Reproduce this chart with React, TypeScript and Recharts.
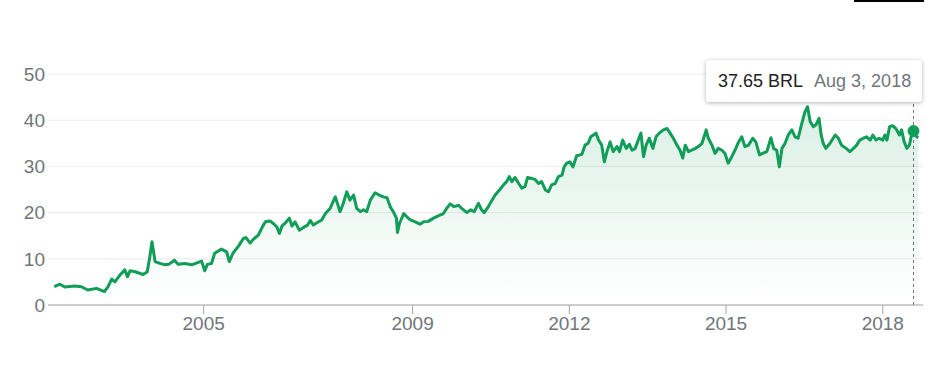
import {
  Area,
  AreaChart,
  CartesianGrid,
  ReferenceDot,
  ReferenceLine,
  XAxis,
  YAxis,
} from "recharts";

// time as fractional years, price in BRL
const years = [
  2002.14, 2002.25, 2002.34, 2002.53, 2002.66, 2002.78, 2002.95, 2003.1, 2003.17, 2003.24,
  2003.3, 2003.4, 2003.49, 2003.54, 2003.59, 2003.69, 2003.84, 2003.92, 2003.97, 2004.01,
  2004.07, 2004.16, 2004.26, 2004.33, 2004.44, 2004.51, 2004.64, 2004.77, 2004.96, 2005.02,
  2005.07, 2005.15, 2005.21, 2005.34, 2005.44, 2005.49, 2005.56, 2005.67, 2005.76, 2005.81,
  2005.89, 2005.95, 2006.05, 2006.11, 2006.18, 2006.27, 2006.34, 2006.4, 2006.45, 2006.5,
  2006.56, 2006.64, 2006.69, 2006.75, 2006.83, 2006.91, 2006.99, 2007.04, 2007.1, 2007.2,
  2007.26, 2007.33, 2007.42, 2007.52, 2007.56, 2007.61, 2007.66, 2007.74, 2007.8, 2007.87,
  2007.93, 2008.0, 2008.06, 2008.12, 2008.19, 2008.28, 2008.36, 2008.44, 2008.51, 2008.57,
  2008.63, 2008.69, 2008.71, 2008.75, 2008.83, 2008.89, 2008.95, 2009.05, 2009.14, 2009.21,
  2009.3, 2009.4, 2009.49, 2009.59, 2009.65, 2009.72, 2009.79, 2009.88, 2009.94, 2010.04,
  2010.11, 2010.18, 2010.26, 2010.32, 2010.37, 2010.45, 2010.52, 2010.58, 2010.67, 2010.74,
  2010.8, 2010.85, 2010.9, 2010.96, 2011.03, 2011.09, 2011.15, 2011.2, 2011.28, 2011.34,
  2011.41, 2011.47, 2011.54, 2011.6, 2011.66, 2011.73, 2011.79, 2011.86, 2011.9, 2011.95,
  2012.01, 2012.07, 2012.14, 2012.24, 2012.3, 2012.36, 2012.41, 2012.46, 2012.51, 2012.56,
  2012.62, 2012.67, 2012.72, 2012.78, 2012.84, 2012.91, 2012.96, 2013.02, 2013.09, 2013.15,
  2013.2, 2013.26, 2013.32, 2013.37, 2013.42, 2013.47, 2013.53, 2013.6, 2013.66, 2013.72,
  2013.8, 2013.87, 2013.93, 2013.99, 2014.06, 2014.12, 2014.17, 2014.22, 2014.28, 2014.34,
  2014.41, 2014.47, 2014.54, 2014.62, 2014.66, 2014.73, 2014.79, 2014.85, 2014.92, 2014.98,
  2015.04, 2015.11, 2015.17, 2015.24, 2015.3, 2015.36, 2015.43, 2015.51, 2015.57, 2015.64,
  2015.7, 2015.78, 2015.86, 2015.91, 2015.97, 2016.02, 2016.07, 2016.13, 2016.19, 2016.26,
  2016.32, 2016.38, 2016.45, 2016.51, 2016.56, 2016.61, 2016.67, 2016.72, 2016.78, 2016.82,
  2016.86, 2016.91, 2016.99, 2017.09, 2017.15, 2017.21, 2017.3, 2017.37, 2017.44, 2017.5,
  2017.56, 2017.63, 2017.69, 2017.76, 2017.81, 2017.87, 2017.93, 2018.0, 2018.04, 2018.08,
  2018.13, 2018.19, 2018.25, 2018.32, 2018.36, 2018.41, 2018.46, 2018.51, 2018.56, 2018.588,
  2018.65, 2018.68,
];

const prices = [
  3.96, 4.5, 3.9, 4.1, 3.95, 3.25, 3.6, 2.9, 4.0, 5.6,
  5.0, 6.5, 7.6, 6.1, 7.4, 7.2, 6.6, 7.2, 10.5, 13.7,
  9.4, 9.0, 8.7, 8.8, 9.7, 8.8, 9.0, 8.7, 9.5, 7.4,
  8.8, 9.0, 11.2, 12.1, 11.5, 9.4, 11.2, 12.8, 14.4, 14.6,
  13.4, 14.2, 15.2, 16.6, 18.0, 18.2, 17.6, 16.9, 15.5, 17.1,
  17.7, 18.8, 17.1, 18.0, 16.2, 16.8, 17.3, 18.3, 17.3, 18.0,
  18.4, 19.8, 20.9, 23.4, 22.0, 20.2, 21.6, 24.5, 22.7, 23.8,
  20.9, 20.2, 20.6, 20.2, 22.7, 24.3, 23.8, 23.4, 23.2, 21.3,
  20.2, 18.8, 15.7, 17.7, 19.8, 19.1, 18.5, 18.0, 17.5, 18.0,
  18.1, 18.8, 19.3, 19.8, 20.9, 21.9, 21.3, 21.6, 20.9, 20.0,
  20.6, 20.2, 22.0, 20.6, 20.0, 21.3, 22.7, 23.8, 25.0, 26.0,
  26.7, 27.8, 26.7, 27.6, 26.3, 25.3, 25.6, 27.6, 27.4, 27.2,
  26.3, 26.7, 24.9, 24.5, 26.0, 26.3, 27.8, 28.1, 29.9, 30.7,
  31.0, 29.9, 32.3, 32.6, 34.6, 35.0, 36.4, 36.8, 37.2, 35.7,
  34.6, 31.0, 33.2, 35.3, 33.2, 34.3, 33.2, 35.7, 33.9, 34.8,
  33.5, 33.9, 35.7, 37.2, 32.1, 34.6, 36.1, 33.9, 36.4, 37.2,
  37.9, 38.2, 37.2, 36.1, 34.6, 33.5, 31.8, 34.6, 33.2, 33.5,
  33.9, 34.3, 35.0, 37.9, 36.1, 34.6, 32.8, 33.9, 33.5, 32.8,
  30.7, 32.1, 33.5, 35.3, 36.4, 34.3, 34.6, 36.1, 35.3, 32.5,
  32.8, 33.2, 36.2, 33.9, 33.5, 29.9, 33.9, 35.0, 36.8, 37.9,
  36.4, 36.1, 39.3, 41.8, 42.9, 39.7, 38.6, 39.0, 40.4, 36.8,
  35.0, 33.9, 35.0, 36.8, 36.1, 34.6, 33.9, 33.2, 33.9, 34.6,
  35.7, 36.1, 36.4, 35.7, 36.8, 35.7, 36.1, 35.7, 36.8, 35.7,
  38.6, 38.8, 38.2, 36.8, 37.9, 35.3, 33.9, 34.6, 37.4, 37.65,
  36.4, 36.2,
];

const yearTicks = [2005, 2009, 2012, 2015, 2018];
const priceTicks = [0, 10, 20, 30, 40, 50];

const hoverYear = 2018.588;
const hoverPrice = 37.65;
const hoverPriceLabel = "37.65 BRL";
const hoverDateLabel = "Aug 3, 2018";

const data = years.map((t, i) => ({ t, price: prices[i] }));

const GREEN = "#0f9d58";
const GREY = "#70757a";
const FONT = "Arial, 'Liberation Sans', sans-serif";

export default function App() {
  return (
    <div
      style={{
        position: "absolute",
        left: 0,
        top: 0,
        width: 948,
        height: 366,
        background: "#fff",
        fontFamily: FONT,
      }}
    >
      <div
        style={{
          position: "absolute",
          left: 854,
          top: 0,
          width: 70,
          height: 2,
          background: "#000",
        }}
      />
      <AreaChart
        width={948}
        height={366}
        data={data}
        margin={{ top: 74, right: 25, left: 0, bottom: 31 }}
      >
        <defs>
          <linearGradient id="priceFill" x1="0" y1="0" x2="0" y2="1">
            <stop offset="0%" stopColor={GREEN} stopOpacity={0.26} />
            <stop offset="90%" stopColor={GREEN} stopOpacity={0.02} />
            <stop offset="100%" stopColor={GREEN} stopOpacity={0} />
          </linearGradient>
        </defs>
        <CartesianGrid vertical={false} stroke="#ececec" />
        <XAxis
          dataKey="t"
          type="number"
          domain={[2002.02, 2018.77]}
          ticks={yearTicks}
          allowDataOverflow
          height={30}
          stroke="#a6a6a6"
          tickSize={9}
          tickMargin={3}
          tick={{ fill: GREY, fontSize: 19, fontFamily: FONT }}
        />
        <YAxis
          type="number"
          domain={[0, 50]}
          ticks={priceTicks}
          width={48}
          axisLine={false}
          tickLine={false}
          tickSize={0}
          tickMargin={3}
          tick={{ fill: GREY, fontSize: 19, fontFamily: FONT }}
        />
        <ReferenceLine
          x={hoverYear}
          stroke={GREY}
          strokeDasharray="3 3"
          strokeWidth={1}
        />
        <Area
          type="linear"
          dataKey="price"
          stroke={GREEN}
          strokeWidth={3}
          strokeLinejoin="round"
          fill="url(#priceFill)"
          dot={false}
          activeDot={false}
          isAnimationActive={false}
        />
        <ReferenceDot
          x={hoverYear}
          y={hoverPrice}
          r={5.5}
          fill={GREEN}
          stroke={GREEN}
        />
      </AreaChart>
      <div
        style={{
          position: "absolute",
          left: 706,
          top: 60,
          width: 216,
          height: 42,
          boxSizing: "border-box",
          background: "#fff",
          borderRadius: 3,
          boxShadow: "0 1px 4px rgba(0,0,0,0.3)",
          display: "flex",
          alignItems: "center",
          paddingLeft: 12,
          fontSize: 18,
          whiteSpace: "nowrap",
        }}
      >
        <span style={{ color: "#222" }}>{hoverPriceLabel}</span>
        <span style={{ color: GREY, marginLeft: 11 }}>{hoverDateLabel}</span>
      </div>
    </div>
  );
}
